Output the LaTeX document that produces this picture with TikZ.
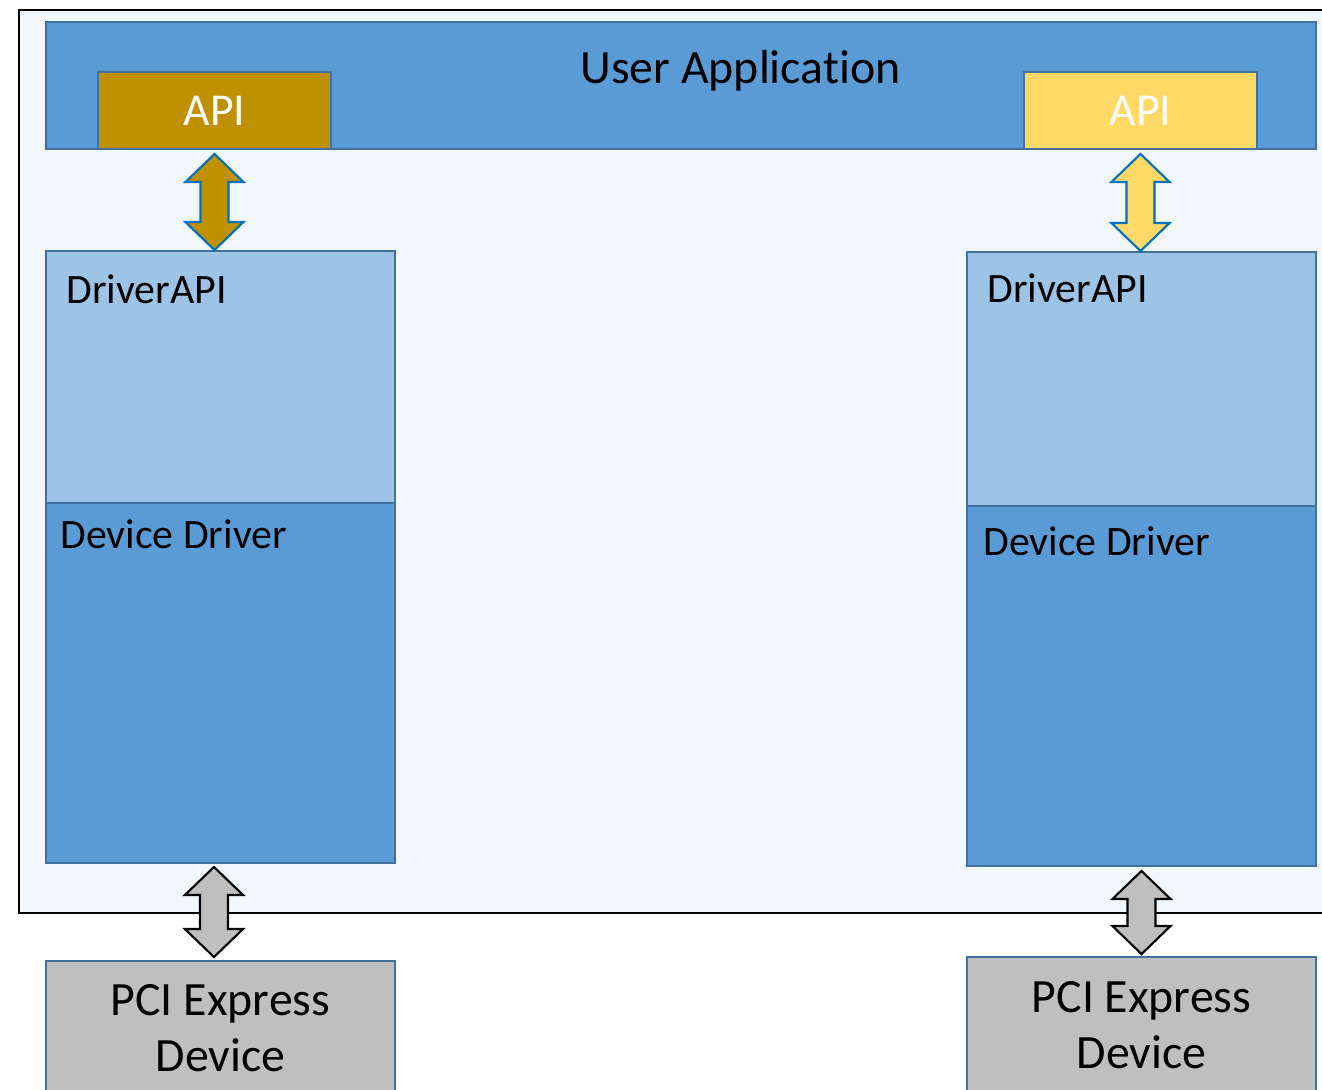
\documentclass[tikz,border=0pt]{standalone}
\usepackage{fontspec}
\setmainfont{Carlito}[Ligatures=NoCommon]
\usepackage{tikz}
\usetikzlibrary{calc}
\definecolor{appblue}{HTML}{5B9BD5}
\definecolor{drvapiblue}{HTML}{9DC3E6}
\definecolor{apigold}{HTML}{BF9000}
\definecolor{apiyellow}{HTML}{FFD966}
\definecolor{boxline}{HTML}{41719C}
\definecolor{arrowline}{HTML}{0070C0}
\definecolor{pcigray}{HTML}{BFBFBF}
\definecolor{hostpale}{HTML}{F2F7FC}
\newcommand{\fatarrow}[3]{%
  \draw[#3] (#1) -- ($(#1)+(0.58,-0.56)$) -- ($(#1)+(0.28,-0.56)$) -- ($(#2)+(0.28,0.56)$)
    -- ($(#2)+(0.58,0.56)$) -- (#2) -- ($(#2)+(-0.58,0.56)$) -- ($(#2)+(-0.28,0.56)$)
    -- ($(#1)+(-0.28,-0.56)$) -- ($(#1)+(-0.58,-0.56)$) -- cycle;}

\begin{document}
\begin{tikzpicture}
\tikzstyle{box}=[rectangle, draw=boxline, line width=1.1pt, inner sep=0pt]
\tikzstyle{big}=[font=\fontsize{27.2}{31.75}\selectfont]
\tikzstyle{apitxt}=[font=\fontsize{26}{31}\selectfont, text=white]
\tikzstyle{mid}=[font=\fontsize{23.8}{28}\selectfont]
\tikzstyle{apiarrow}=[draw=arrowline, line width=1.2pt, line join=miter]
\tikzstyle{pciarrow}=[draw=black, fill=pcigray, line width=1.2pt, line join=miter]

  \useasboundingbox (0,0) rectangle (26.44,-21.78);

  % host frame
  \fill[hostpale] (0.38,-0.2) rectangle (26.44,-18.26);
  \draw[line width=1.1pt] (26.44,-0.2) -- (0.38,-0.2) -- (0.38,-18.26) -- (26.44,-18.26);

  \node[box, fill=appblue, minimum width=25.4cm, minimum height=2.54cm] (app) at (13.62,-1.71) {};
  \node[big, anchor=base] (apptxt) at (14.81,-1.66) {User Application};

  \node[box, fill=apigold, minimum width=4.66cm, minimum height=1.54cm, apitxt]   (apil) at (4.29,-2.21)  {API};
  \node[box, fill=apiyellow, minimum width=4.66cm, minimum height=1.54cm, apitxt] (apir) at (22.81,-2.21) {API};

  \node[box, fill=drvapiblue, minimum width=6.98cm, minimum height=5.04cm] (drvapil) at (4.41,-7.54)  {};
  \node[box, fill=appblue,    minimum width=6.98cm, minimum height=7.2cm]  (drvl)    at (4.41,-13.66) {};
  \node[box, fill=drvapiblue, minimum width=6.98cm, minimum height=5.08cm] (drvapir) at (22.83,-7.58) {};
  \node[box, fill=appblue,    minimum width=6.98cm, minimum height=7.2cm]  (drvr)    at (22.83,-13.72) {};

  \node[mid, anchor=base west, inner sep=0pt] (drvapiltxt) at (1.32,-6.06)  {DriverAPI};
  \node[mid, anchor=base west, inner sep=0pt] (drvltxt)    at (1.20,-10.96) {Device Driver};
  \node[mid, anchor=base west, inner sep=0pt] (drvapirtxt) at (19.74,-6.04) {DriverAPI};
  \node[mid, anchor=base west, inner sep=0pt] (drvrtxt)    at (19.66,-11.10) {Device Driver};

  \node[box, fill=pcigray, minimum width=6.98cm, minimum height=2.68cm, big, align=center] (pcil) at (4.41,-20.56) {PCI Express\\Device};
  \node[box, fill=pcigray, minimum width=6.98cm, minimum height=2.72cm, big, align=center] (pcir) at (22.83,-20.5) {PCI Express\\Device};

  \coordinate (apiltip) at ($(apil.south)+(0,-0.08)$);
  \coordinate (drvapiltip) at (apil.south |- drvapil.north);
  \coordinate (apirtip) at ($(apir.south)+(0,-0.08)$);
  \coordinate (drvapirtip) at (apir.south |- drvapir.north);
  \coordinate (drvltip) at ($(drvl.south)+(-0.13,-0.06)$);
  \coordinate (pciltip) at ($(pcil.north)+(-0.13,0.06)$);
  \coordinate (drvrtip) at ($(drvr.south)+(0,-0.08)$);
  \coordinate (pcirtip) at ($(pcir.north)+(0,0.04)$);

  \fatarrow{apiltip}{drvapiltip}{apiarrow, fill=apigold}
  \fatarrow{apirtip}{drvapirtip}{apiarrow, fill=apiyellow}
  \fatarrow{drvltip}{pciltip}{pciarrow}
  \fatarrow{drvrtip}{pcirtip}{pciarrow}

\end{tikzpicture}
\end{document}
